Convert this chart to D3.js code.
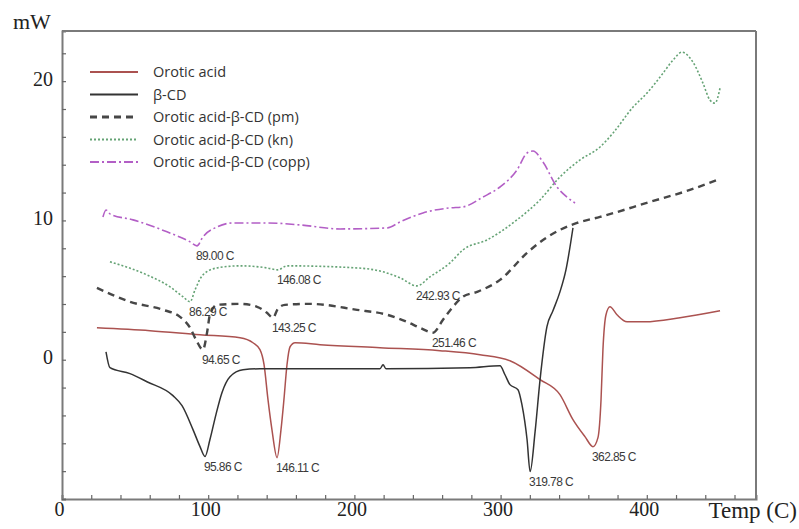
<!DOCTYPE html>
<html>
<head>
<meta charset="utf-8">
<script src="https://cdn.jsdelivr.net/npm/d3@7"></script>
<style>
  body { margin: 0; background: #fff; }
  svg { display: block; }
</style>
</head>
<body>
<div id="chart"></div>
<script>
// DSC thermograms, values: [temp (C), heat flow (mW)]
const orotic = [
  [23.9, 2.29], [60.2, 2.08], [94.4, 1.79], [121.8, 1.58], [130.6, 1.22], [135.4, 0.72],
  [138.2, -0.36], [140.9, -2.87], [143.6, -5.02], [147.1, -7.03], [149.8, -5.02], [151.8, -2.87],
  [153.9, -0.36], [156.0, 0.93], [159.4, 1.22], [176.5, 1.08], [217.5, 0.86], [258.5, 0.65],
  [285.9, 0.36], [306.4, -0.07], [327.0, -1.43], [340.6, -2.51], [349.5, -4.30], [357.7, -5.52],
  [363.2, -6.24], [366.6, -5.59], [368.7, -2.87], [370.0, 0.72], [372.1, 3.23], [374.8, 3.80],
  [379.6, 3.23], [386.5, 2.72], [398.8, 2.72], [422.7, 3.01], [450.1, 3.51]
];
const betaCD = [
  [30.1, 0.57], [32.8, -0.57], [46.5, -1.0], [58.1, -1.58], [75.9, -2.58], [82.1, -3.30],
  [89.6, -5.02], [94.4, -6.24], [97.8, -6.95], [101.2, -5.73], [105.3, -3.94], [109.4, -2.37],
  [114.9, -1.22], [123.8, -0.72], [135.4, -0.65], [183.3, -0.65], [217.5, -0.65], [219.6, -0.36],
  [221.6, -0.65], [279.1, -0.57], [299.6, -0.43], [303.0, -1.08], [306.4, -1.79], [311.9, -2.15],
  [314.6, -3.23], [318.1, -5.73], [320.2, -8.03], [323.6, -5.16], [327.0, -1.43], [331.7, 2.37],
  [335.8, 3.51], [340.6, 4.87], [344.7, 6.45], [349.5, 9.46]
];
const physMix = [
  [23.9, 5.16], [46.5, 4.16], [69.1, 3.58], [80.7, 3.08], [87.6, 2.29], [91.7, 1.43],
  [96.4, 0.72], [99.2, 1.94], [101.2, 3.23], [106.0, 3.94], [121.8, 4.01], [133.4, 3.80],
  [140.2, 3.37], [144.3, 3.01], [147.7, 3.66], [152.5, 3.94], [169.6, 4.01], [201.8, 3.58],
  [222.3, 3.23], [236.0, 2.72], [244.9, 2.29], [253.8, 1.94], [260.6, 2.87], [267.4, 3.80],
  [274.3, 4.52], [283.9, 4.87], [299.6, 5.73], [318.1, 7.67], [329.0, 8.60], [340.6, 9.32],
  [352.3, 9.82], [368.0, 10.25], [402.2, 11.33], [429.5, 12.19], [448.0, 12.90]
];
const kneaded = [
  [32.8, 7.03], [58.1, 6.09], [73.9, 5.23], [82.8, 4.52], [87.6, 4.16], [91.0, 5.02],
  [96.4, 6.09], [106.0, 6.59], [121.8, 6.74], [140.2, 6.59], [147.7, 6.45], [153.9, 6.74],
  [201.8, 6.59], [219.6, 6.31], [231.2, 5.88], [242.8, 5.30], [251.7, 5.95], [265.4, 6.95],
  [274.3, 7.89], [290.7, 8.60], [311.2, 10.04], [326.9, 11.47], [340.6, 13.12], [354.3, 14.34],
  [368.0, 15.27], [376.9, 16.27], [390.6, 18.14], [400.1, 19.14], [411.1, 20.57], [417.9, 21.51],
  [424.1, 22.08], [431.6, 21.36], [438.4, 19.86], [443.2, 18.64], [446.6, 18.42], [450.1, 19.50]
];
const coppt = [
  [28.0, 10.25], [30.1, 10.75], [32.8, 10.47], [48.6, 10.04], [71.8, 9.18], [87.6, 8.46],
  [92.3, 8.17], [96.4, 8.82], [106.0, 9.53], [117.0, 9.82], [140.2, 9.82], [162.8, 9.68],
  [190.2, 9.39], [222.3, 9.46], [231.2, 9.89], [246.9, 10.54], [265.4, 10.90], [274.3, 10.97],
  [288.0, 11.68], [299.6, 12.40], [311.2, 13.62], [318.1, 14.84], [322.2, 14.98], [329.0, 14.19],
  [338.6, 12.40], [345.4, 11.68], [350.9, 11.25]
];

const seriesNames = [
  "Orotic acid",
  "\u03b2-CD",
  "Orotic acid-\u03b2-CD (pm)",
  "Orotic acid-\u03b2-CD (kn)",
  "Orotic acid-\u03b2-CD (copp)"
];

// peak labels: [temp, heat flow at the minimum, text]
const peakLabels = [
  [92.3, 8.17, "89.00 C"],
  [147.7, 6.45, "146.08 C"],
  [87.6, 4.16, "86.29 C"],
  [144.3, 3.01, "143.25 C"],
  [96.4, 0.72, "94.65 C"],
  [97.8, -6.95, "95.86 C"],
  [147.1, -7.03, "146.11 C"],
  [242.8, 5.30, "242.93 C"],
  [253.8, 1.94, "251.46 C"],
  [320.2, -8.03, "319.78 C"],
  [363.2, -6.24, "362.85 C"]
];

const xTicks = d3.range(0, 461, 20);
const yTicks = d3.range(-10, 23, 2);
const xLabelled = [0, 100, 200, 300, 400];
const yLabelled = [0, 10, 20];

const width = 799;
const height = 529;
const margins = { top: 31, right: 43, bottom: 30, left: 62 };
const innerWidth = width - margins.left - margins.right;
const innerHeight = height - margins.top - margins.bottom;

const svg = d3.select("#chart").append("svg")
  .attr("width", width)
  .attr("height", height);

const mainG = svg.append("g")
  .attr("transform", `translate(${margins.left},${margins.top})`);

const xScale = d3.scaleLinear().domain([0, 474.7]).range([0, innerWidth]);
const yScale = d3.scaleLinear().domain([-10, 23.6]).range([innerHeight, 0]);

const axisColor = "#7a7a7a";
const serif = "'Liberation Serif', 'DejaVu Serif', serif";

// Frame: top and right edges are plain lines
mainG.append("line")
  .attr("x1", 0).attr("x2", innerWidth).attr("y1", 0).attr("y2", 0)
  .attr("stroke", axisColor).attr("stroke-width", 2);
mainG.append("line")
  .attr("x1", innerWidth).attr("x2", innerWidth).attr("y1", 0).attr("y2", innerHeight)
  .attr("stroke", axisColor).attr("stroke-width", 2);

// Axes with inward ticks
const xAxisG = mainG.append("g")
  .attr("transform", `translate(0,${innerHeight})`)
  .call(d3.axisBottom(xScale)
    .tickValues(xTicks)
    .tickSize(-4)
    .tickPadding(3)
    .tickFormat((d) => xLabelled.includes(d) ? d : ""));

const yAxisG = mainG.append("g")
  .call(d3.axisLeft(yScale)
    .tickValues(yTicks)
    .tickSize(-4)
    .tickPadding(9)
    .tickFormat((d) => yLabelled.includes(d) ? d : ""));

[xAxisG, yAxisG].forEach((g) => {
  g.select(".domain").attr("stroke", axisColor).attr("stroke-width", 2);
  g.selectAll(".tick line").attr("stroke", "#666").attr("stroke-width", 1.2);
  // drop the empty labels of the minor ticks
  g.selectAll(".tick text").filter(function () { return this.textContent === ""; }).remove();
  g.selectAll(".tick text")
    .attr("font-family", serif)
    .attr("font-size", "20px")
    .attr("fill", "#222");
});
xAxisG.selectAll(".tick text").attr("dx", "-3");
yAxisG.selectAll(".tick text").attr("dy", "0.2em");

// Axis titles
svg.append("text")
  .attr("x", 13).attr("y", 29)
  .attr("font-family", serif).attr("font-size", "22px").attr("fill", "#222")
  .text("mW");
svg.append("text")
  .attr("x", 797).attr("y", 518)
  .attr("text-anchor", "end")
  .attr("font-family", serif).attr("font-size", "23px").attr("fill", "#222")
  .text("Temp (C)");

// Curves
const series = [
  { name: seriesNames[0], values: orotic, color: "#ab5250", width: 1.5, dash: null },
  { name: seriesNames[1], values: betaCD, color: "#333333", width: 1.5, dash: null },
  { name: seriesNames[2], values: physMix, color: "#474747", width: 2.4, dash: "7,5" },
  { name: seriesNames[3], values: kneaded, color: "#65a375", width: 1.6, dash: "2,2" },
  { name: seriesNames[4], values: coppt, color: "#b35fc6", width: 1.6, dash: "9,3,2,3" }
];

const line = d3.line()
  .x((d) => xScale(d[0]))
  .y((d) => yScale(d[1]))
  .curve(d3.curveMonotoneX);

mainG.append("g").attr("class", "curves")
  .selectAll("path")
  .data(series)
  .join("path")
  .attr("d", (d) => line(d.values))
  .attr("fill", "none")
  .attr("stroke", (d) => d.color)
  .attr("stroke-width", (d) => d.width)
  .attr("stroke-dasharray", (d) => d.dash)
  .attr("stroke-linejoin", "round");

// Peak labels
mainG.append("g").attr("class", "peaks")
  .selectAll("text")
  .data(peakLabels)
  .join("text")
  .attr("x", (d) => xScale(d[0]) - 1)
  .attr("y", (d) => yScale(d[1]) + 14)
  .attr("font-family", "'Liberation Sans', Arial, sans-serif")
  .attr("font-size", "12px")
  .attr("letter-spacing", "-0.6")
  .attr("fill", "#3a3a3a")
  .text((d) => d[2]);

// Legend
const legendG = svg.append("g").attr("class", "legend")
  .attr("transform", "translate(90,72)");

const legendRows = legendG.selectAll("g")
  .data(series)
  .join("g")
  .attr("transform", (d, i) => `translate(0,${i * 22.5})`);

legendRows.append("line")
  .attr("x1", 0).attr("x2", 48)
  .attr("stroke", (d) => d.color)
  .attr("stroke-width", (d) => d.width + 0.4)
  .attr("stroke-dasharray", (d) => d.dash);

legendRows.append("text")
  .attr("x", 63).attr("dy", "0.35em")
  .attr("font-family", "'Open Sans', sans-serif")
  .attr("font-size", "14.5px")
  .attr("fill", "#333")
  .text((d) => d.name);
</script>
</body>
</html>
